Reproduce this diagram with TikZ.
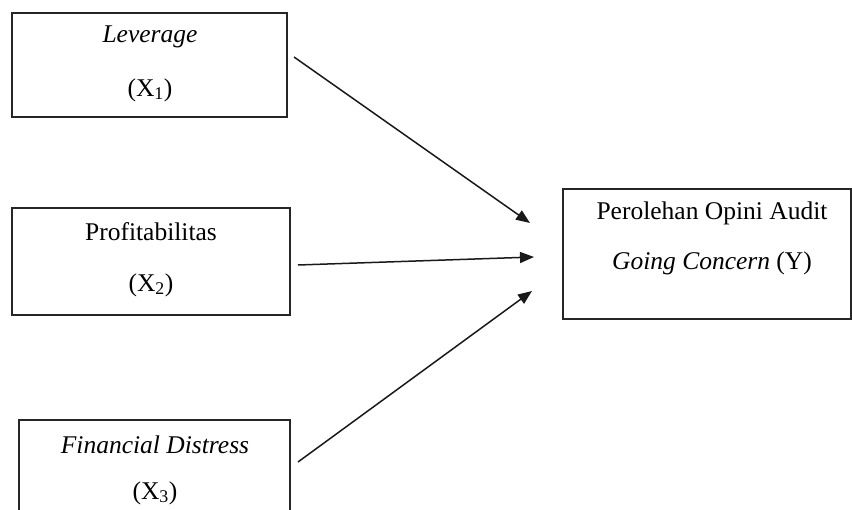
\documentclass[tikz,border=0pt]{standalone}
\usepackage{fontspec}
\setmainfont{Liberation Serif}
\usetikzlibrary{arrows.meta}
\begin{document}
\begin{tikzpicture}[x=1pt,y=-1pt,
  box/.style={draw=black!85,line width=1.7pt,rectangle,inner sep=0pt},
  lbl/.style={inner sep=0pt,font=\fontsize{25.5}{30}\selectfont},
  conn/.style={line width=1.5pt,black!90,-{Triangle[length=14pt,width=11pt]}}]
\useasboundingbox (0,0) rectangle (852,510);
\node[box,minimum width=275pt,minimum height=104pt] (b1) at (149.5,65) {};
\node[box,minimum width=278pt,minimum height=107pt] (b2) at (151,261.5) {};
\node[box,minimum width=271pt,minimum height=110pt] (b3) at (154.5,475) {};
\node[box,minimum width=288pt,minimum height=130pt] (by) at (707,254) {};
\node[lbl] (t1a) at (150,37) {\textit{Leverage}};
\node[lbl] (t1b) at (150,90) {(X\textsubscript{1})};
\node[lbl] (t2a) at (151,232) {Profitabilitas};
\node[lbl] (t2b) at (151,285) {(X\textsubscript{2})};
\node[lbl] (t3a) at (155,445) {\textit{Financial Distress}};
\node[lbl] (t3b) at (155,493) {(X\textsubscript{3})};
\node[lbl] (tya) at (712,213) {Perolehan Opini Audit};
\node[lbl] (tyb) at (712,263) {\textit{Going Concern} (Y)};
\coordinate (s1) at (294,57);
\coordinate (e1) at (530,223);
\coordinate (s2) at (298,265);
\coordinate (e2) at (534,257);
\coordinate (s3) at (298,462);
\coordinate (e3) at (532,291);
\draw[conn] (s1) -- (e1);
\draw[conn] (s2) -- (e2);
\draw[conn] (s3) -- (e3);
\end{tikzpicture}
\end{document}
